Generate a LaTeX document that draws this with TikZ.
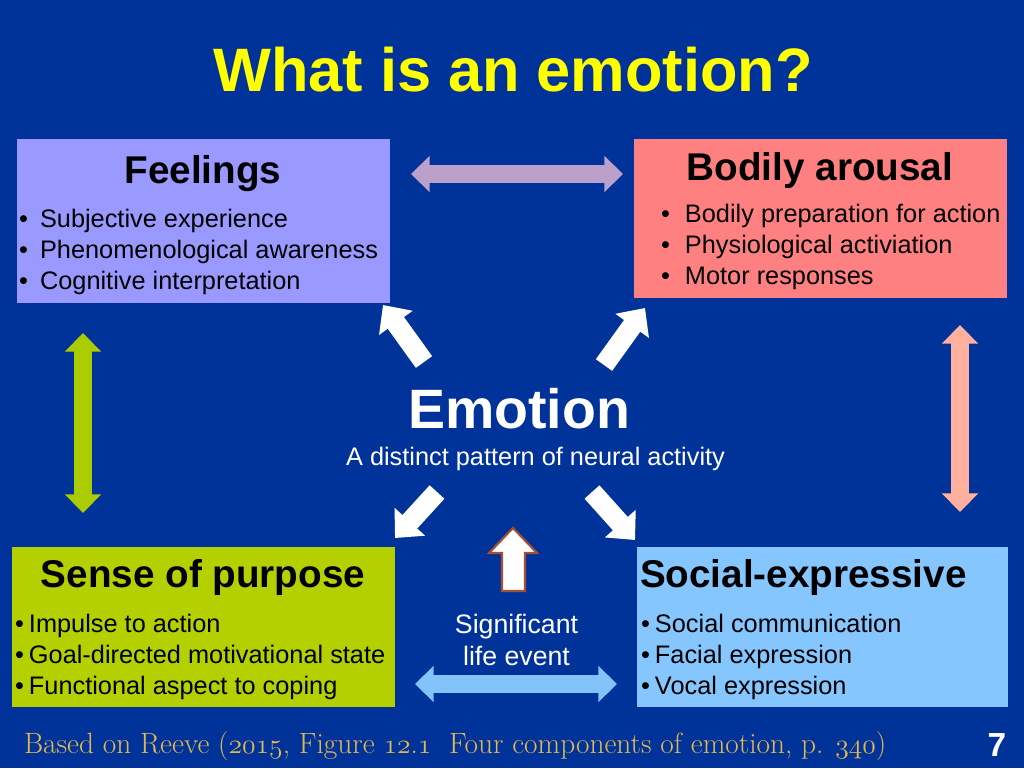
\documentclass[tikz,border=0pt]{standalone}
\usepackage{fontspec}
\newfontfamily\sans{Liberation Sans}
\usetikzlibrary{arrows.meta,fit}
\definecolor{bgc}{RGB}{0,51,153}
\definecolor{feelc}{RGB}{153,153,255}
\definecolor{bodyc}{RGB}{255,128,128}
\definecolor{sensec}{RGB}{181,208,0}
\definecolor{socc}{RGB}{133,198,255}
\definecolor{lilac}{RGB}{187,160,204}
\definecolor{greenarr}{RGB}{170,204,0}
\definecolor{salmon}{RGB}{255,176,158}
\definecolor{bluearr}{RGB}{130,195,250}
\definecolor{brownc}{RGB}{165,80,50}
\definecolor{footc}{RGB}{229,184,78}
\definecolor{titlec}{RGB}{255,255,0}
\newcommand\bul[1]{\makebox[#1][l]{•}}
\newcommand\osn[1]{{\usefont{OML}{cmm}{m}{it}#1}}
\begin{document}
\begin{tikzpicture}[x=0.75pt,y=-0.75pt,
  every node/.style={inner sep=0pt,outer sep=0pt},
  boxnode/.style={draw=none},
  ttl/.style={font=\sans\bfseries\fontsize{29}{34}\selectfont,text=black,anchor=base},
  blist/.style={font=\sans\fontsize{19}{23.6}\selectfont,text=black,anchor=base west},
  blk/.style={draw=white,line width=15pt,-{Triangle[length=16.5pt,width=30pt]}},
  dbl/.style={draw=#1,line width=13.5pt,{Triangle[length=14pt,width=26.5pt]}-{Triangle[length=14pt,width=26.5pt]}}]
\fill[bgc] (0,0) rectangle (1024,768);
\useasboundingbox (0,0) rectangle (1024,768);

% title
\node[font=\sans\bfseries\fontsize{46}{50}\selectfont,text=titlec,anchor=base] (title) at (513,91) {What is an emotion?};

% boxes
\node[boxnode,fit={(17,139) (390,303)},fill=feelc] (feel) {};
\node[boxnode,fit={(634,139) (1007,298)},fill=bodyc] (body) {};
\node[boxnode,fit={(12,547) (395,707)},fill=sensec] (sense) {};
\node[boxnode,fit={(637,547) (1008,707)},fill=socc] (soc) {};

% box titles
\node[ttl] (feelT) at (203,183) {Feelings};
\node[ttl] (bodyT) at (820,180) {Bodily arousal};
\node[ttl] (senseT) at (203,587) {Sense of purpose};
\node[ttl,anchor=base west] (socT) at (640,587) {Social-expressive};

% bullet lists
\node[blist] (feelL) at (19,227) {\begin{tabular}[t]{@{}l@{}}\bul{15.8pt}Subjective experience\\ \bul{15.8pt}Phenomenological awareness\\ \bul{15.8pt}Cognitive interpretation\end{tabular}};
\node[blist] (bodyL) at (661,222) {\begin{tabular}[t]{@{}l@{}}\bul{18pt}Bodily preparation for action\\ \bul{18pt}Physiological activiation\\ \bul{18pt}Motor responses\end{tabular}};
\node[blist] (senseL) at (15,632) {\begin{tabular}[t]{@{}l@{}}\bul{10.5pt}Impulse to action\\ \bul{10.5pt}Goal-directed motivational state\\ \bul{10.5pt}Functional aspect to coping\end{tabular}};
\node[blist] (socL) at (641,632) {\begin{tabular}[t]{@{}l@{}}\bul{10.5pt}Social communication\\ \bul{10.5pt}Facial expression\\ \bul{10.5pt}Vocal expression\end{tabular}};

% center
\node[font=\sans\bfseries\fontsize{41.6}{46}\selectfont,text=white,anchor=base] (emo) at (519,428) {Emotion};
\node[font=\sans\fontsize{19}{23}\selectfont,text=white,anchor=base] (emosub) at (535.5,465) {A distinct pattern of neural activity};
\node[font=\sans\fontsize{20}{24}\selectfont,text=white,anchor=base] (event) at (516.5,633) {\begin{tabular}[t]{@{}c@{}}Significant\\ life event\end{tabular}};

% arrow end points
\coordinate (ulA) at (424,362); \coordinate (ulB) at (383,305);
\coordinate (urA) at (604,365); \coordinate (urB) at (645,308);
\coordinate (llA) at (437,492); \coordinate (llB) at (395,538);
\coordinate (lrA) at (592,492); \coordinate (lrB) at (635,540);
\coordinate (topL) at (411,174); \coordinate (topR) at (623,174);
\coordinate (leftT) at (83,333); \coordinate (leftB) at (83,513);
\coordinate (rightT) at (960,325); \coordinate (rightB) at (960,512);
\coordinate (botL) at (415,684); \coordinate (botR) at (617,684);

% white block arrows
\draw[blk] (ulA) -- (ulB);
\draw[blk] (urA) -- (urB);
\draw[blk] (llA) -- (llB);
\draw[blk] (lrA) -- (lrB);

% double arrows
\draw[dbl=lilac] (topL) -- (topR);
\draw[dbl=greenarr] (leftT) -- (leftB);
\draw[dbl=salmon] (rightT) -- (rightB);
\draw[dbl=bluearr] (botL) -- (botR);

% up arrow from event
\draw[draw=brownc,line width=1.6pt,fill=white,line join=miter] (513,528) -- (537,553) -- (525,553) -- (525,591) -- (502,591) -- (502,553) -- (489,553) -- cycle;

% footer
\node[font=\fontsize{22}{25}\selectfont,text=footc,anchor=base west] (foot) at (24,753) {Based on Reeve (\osn{2015}, Figure \osn{12}.\osn{1}\ \ Four components of emotion, p. \osn{340})};
\node[font=\sans\bfseries\fontsize{25}{28}\selectfont,text=white,anchor=base] (num) at (997,756) {7};
\end{tikzpicture}
\end{document}
